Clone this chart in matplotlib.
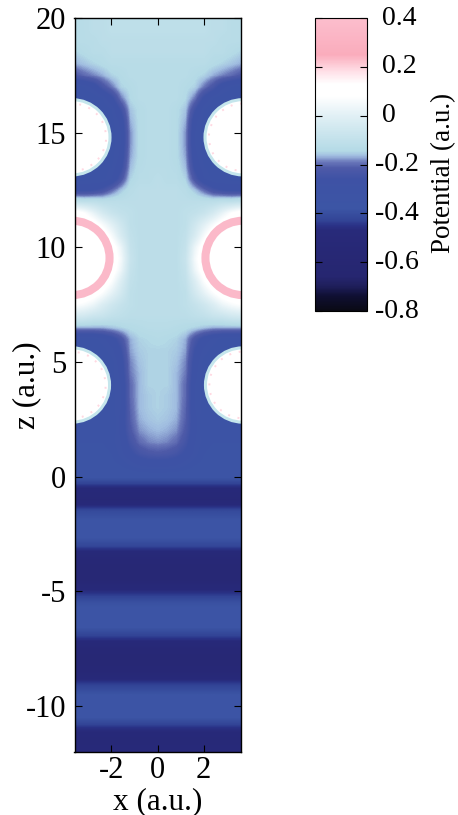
import numpy as np
import matplotlib
matplotlib.use("Agg")
import matplotlib.pyplot as plt
from matplotlib.colors import LinearSegmentedColormap
from matplotlib.patches import Circle

plt.rcParams['font.family'] = ['Liberation Serif', 'DejaVu Serif']

# |x| of the columns, the field is mirrored around x=0
x_half = [0, 0.4, 0.8, 1.2, 1.6, 2.0, 2.4, 2.8, 3.2, 3.6]

# potential for z = 20, 19.5, ... 0.5 (columns follow x_half)
upper_field = [
    [-.11, -.11, -.11, -.11, -.11, -.11, -.12, -.12, -.13, -.13],
    [-.11, -.11, -.11, -.11, -.11, -.11, -.12, -.12, -.13, -.13],
    [-.12, -.12, -.12, -.12, -.12, -.12, -.12, -.13, -.13, -.13],
    [-.12, -.12, -.12, -.12, -.12, -.12, -.13, -.13, -.14, -.15],
    [-.13, -.13, -.13, -.13, -.13, -.13, -.14, -.15, -.16, -.17],
    [-.13, -.13, -.13, -.13, -.14, -.15, -.17, -.185, -.20, -.22],
    [-.13, -.13, -.13, -.14, -.15, -.19, -.23, -.29, -.32, -.33],
    [-.13, -.13, -.13, -.145, -.19, -.27, -.32, -.34, -.34, -.34],
    [-.13, -.13, -.14, -.16, -.25, -.32, -.34, -.34, -.34, -.34],
    [-.13, -.13, -.14, -.17, -.29, -.33, -.34, -.34, -.34, -.34],
    [-.13, -.13, -.14, -.18, -.30, -.33, -.34, -.34, -.34, -.34],
    [-.13, -.13, -.14, -.18, -.30, -.33, -.34, -.34, -.34, -.34],
    [-.13, -.13, -.14, -.175, -.29, -.33, -.34, -.34, -.34, -.34],
    [-.13, -.13, -.135, -.165, -.27, -.32, -.33, -.34, -.34, -.34],
    [-.12, -.13, -.13, -.15, -.23, -.30, -.33, -.33, -.33, -.33],
    [-.12, -.12, -.12, -.13, -.16, -.20, -.24, -.26, -.27, -.27],
    [-.12, -.12, -.12, -.12, -.12, -.12, -.12, -.11, -.11, -.10],
    [-.12, -.12, -.12, -.11, -.10, -.08, -.04, .02, .08, .12],
    [-.12, -.12, -.12, -.11, -.06, .00, .06, .12, .16, .18],
    [-.12, -.12, -.12, -.10, -.03, .06, .14, .18, .20, .20],
    [-.12, -.12, -.12, -.09, .03, .12, .18, .20, .20, .20],
    [-.12, -.12, -.12, -.08, .05, .14, .20, .20, .20, .20],
    [-.12, -.12, -.12, -.09, .03, .12, .18, .20, .20, .20],
    [-.12, -.12, -.12, -.10, -.02, .07, .14, .18, .20, .20],
    [-.12, -.12, -.12, -.11, -.05, .01, .07, .12, .15, .16],
    [-.12, -.12, -.12, -.11, -.09, -.06, -.02, .03, .06, .08],
    [-.12, -.12, -.12, -.12, -.11, -.10, -.08, -.07, -.05, -.04],
    [-.13, -.13, -.135, -.14, -.15, -.16, -.17, -.17, -.17, -.17],
    [-.14, -.145, -.15, -.17, -.23, -.28, -.31, -.33, -.33, -.33],
    [-.15, -.15, -.155, -.175, -.26, -.31, -.33, -.33, -.33, -.33],
    [-.15, -.15, -.16, -.185, -.28, -.33, -.33, -.33, -.33, -.33],
    [-.15, -.15, -.165, -.19, -.29, -.33, -.33, -.33, -.33, -.33],
    [-.15, -.15, -.165, -.20, -.30, -.33, -.33, -.33, -.33, -.33],
    [-.15, -.155, -.165, -.20, -.30, -.33, -.33, -.33, -.33, -.33],
    [-.15, -.155, -.165, -.205, -.30, -.33, -.33, -.33, -.33, -.33],
    [-.155, -.16, -.17, -.21, -.29, -.34, -.34, -.34, -.34, -.34],
    [-.165, -.17, -.18, -.22, -.29, -.34, -.34, -.34, -.34, -.34],
    [-.18, -.185, -.20, -.24, -.30, -.33, -.34, -.34, -.34, -.34],
    [-.22, -.225, -.24, -.27, -.31, -.34, -.35, -.35, -.35, -.35],
    [-.29, -.29, -.30, -.32, -.34, -.35, -.35, -.35, -.35, -.35],
]

# potential for z = 0, -0.5, ... -12, it does not change with x there
lower_profile = [-.37, -.47, -.52, -.41, -.37, -.36, -.42, -.52, -.56, -.55,
                 -.46, -.39, -.36, -.37, -.44, -.53, -.56, -.53, -.44, -.38,
                 -.36, -.38, -.46, -.50, -.47]

# atoms sit at the side walls
atom_x = [-3.7, 3.7]
atom_z = [14.8, 9.54, 4.0]
atom_r = [1.64, 1.62, 1.62]
atom_edge = ['#c5e6ec', '#fbb9c9', '#c5e6ec']
atom_lw = [2.2, 5.8, 2.2]

cbar_ticks = [0.4, 0.2, 0, -0.2, -0.4, -0.6, -0.8]
cbar_labels = ['0.4', '0.2', '0', '-0.2', '-0.4', '-0.6', '-0.8']

cmap_values = [-.80, -.74, -.70, -.66, -.47, -.45, -.43, -.38, -.26, -.215, -.19,
               -.165, -.145, 0, .08, .13, .18, .25, .40]
cmap_colors = [(10, 10, 20), (15, 15, 50), (30, 30, 90), (38, 38, 112),
               (40, 42, 122), (42, 50, 135), (50, 68, 150), (60, 85, 165),
               (62, 82, 165), (78, 90, 168), (105, 118, 185), (160, 188, 224),
               (180, 218, 230), (225, 240, 245), (255, 255, 255), (255, 255, 255),
               (255, 225, 232), (250, 172, 188), (252, 190, 205)]

vmin, vmax = -0.8, 0.4
cmap = LinearSegmentedColormap.from_list(
    'potential',
    [((v - vmin) / (vmax - vmin), tuple(c / 255 for c in col))
     for v, col in zip(cmap_values, cmap_colors)], N=512)

# build the whole map from the two tables
upper = np.array(upper_field)
lower = np.tile(np.array(lower_profile)[:, None], (1, len(x_half)))
half = np.vstack([upper, lower])
field = np.hstack([half[:, :0:-1], half])

fig = plt.figure(figsize=(4.58, 8.15), dpi=100)
W, H = 458, 815
ax = fig.add_axes([74.5 / W, 1 - 752 / H, 166 / W, 734 / H])
im = ax.imshow(field, cmap=cmap, vmin=vmin, vmax=vmax, origin='upper',
               extent=[-3.8, 3.8, -12.25, 20.25], aspect='auto',
               interpolation='bilinear')
ax.set_xlim(-3.6, 3.6)
ax.set_ylim(-12, 20)

for z, r, edge, lw in zip(atom_z, atom_r, atom_edge, atom_lw):
    for x in atom_x:
        ax.add_patch(Circle((x, z), r, facecolor='white', edgecolor=edge, linewidth=lw))
        # faint pink specks just inside the holes
        if lw < 3:
            ax.add_patch(Circle((x, z), r - 0.17, fill=False, edgecolor='#ffd9e2',
                                linewidth=1.4, linestyle=(0, (1, 4))))

ax.set_xticks([-2, 0, 2])
ax.set_yticks([-10, -5, 0, 5, 10, 15, 20])
ax.set_yticklabels(['-10', '-5', '0', '5', '10', '15', '20'])
ax.set_xticklabels(['-2', '0', '2'])
ax.tick_params(axis='y', direction='in', length=5, width=0.8, right=True,
               labelsize=22, pad=6)
ax.tick_params(axis='x', direction='in', length=5, width=0.8, top=True,
               labelsize=22, pad=3)
ax.set_xlabel('x (a.u.)', fontsize=22.5)
ax.set_ylabel('z (a.u.)', fontsize=22.5)
ax.xaxis.set_label_coords(0.5, -0.0475)
ax.yaxis.set_label_coords(-0.2, (752 - 385) / 734)
for s in ax.spines.values():
    s.set_linewidth(1.0)

# colorbar
cax = fig.add_axes([315 / W, 1 - 311 / H, 52 / W, 293 / H])
cb = fig.colorbar(im, cax=cax)
cb.set_ticks(cbar_ticks)
cb.set_ticklabels([''] * len(cbar_ticks))
cax.tick_params(direction='in', length=5, width=0.8, left=True, right=True, pad=0)
trans = cax.get_yaxis_transform()
for v, label in zip(cbar_ticks, cbar_labels):
    x = 1.154 if label.startswith('-') else 1.29
    cax.text(x, v, label, transform=trans, fontsize=20, ha='left', va='center')
cax.text(2.48, -0.235, 'Potential (a.u.)', transform=trans, fontsize=19.5,
         rotation=90, ha='center', va='center')

fig.savefig('out.png', dpi=100)
